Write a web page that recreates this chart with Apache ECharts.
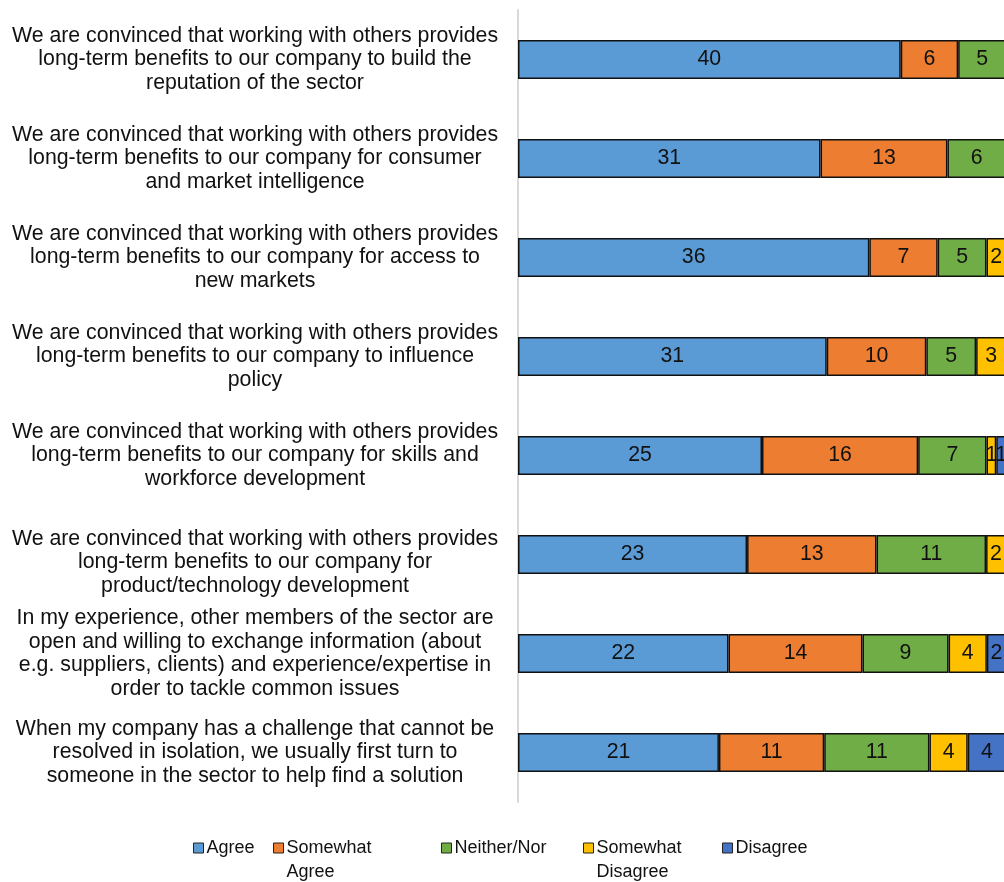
<!DOCTYPE html>
<html>
<head>
<meta charset="utf-8">
<script src="https://cdn.jsdelivr.net/npm/echarts@6/dist/echarts.min.js"></script>
<style>
  html, body { margin: 0; padding: 0; background: #fff; }
  #chart { width: 1004px; height: 882px; }
</style>
</head>
<body>
<div id="chart"></div>
<script>
// Survey statements (one per bar, top to bottom)
const categories = [
  'We are convinced that working with others provides\nlong-term benefits to our company to build the\nreputation of the sector',
  'We are convinced that working with others provides\nlong-term benefits to our company for consumer\nand market intelligence',
  'We are convinced that working with others provides\nlong-term benefits to our company for access to\nnew markets',
  'We are convinced that working with others provides\nlong-term benefits to our company to influence\npolicy',
  'We are convinced that working with others provides\nlong-term benefits to our company for skills and\nworkforce development',
  'We are convinced that working with others provides\nlong-term benefits to our company for\nproduct/technology development',
  'In my experience, other members of the sector are\nopen and willing to exchange information (about\ne.g. suppliers, clients) and experience/expertise in\norder to tackle common issues',
  'When my company has a challenge that cannot be\nresolved in isolation, we usually first turn to\nsomeone in the sector to help find a solution'
];

// Response counts per statement
const agree            = [40, 31, 36, 31, 25, 23, 22, 21];
const somewhatAgree    = [6, 13, 7, 10, 16, 13, 14, 11];
const neitherNor       = [5, 6, 5, 5, 7, 11, 9, 11];
const somewhatDisagree = [0, 0, 2, 3, 1, 2, 4, 4];
const disagree         = [0, 0, 0, 0, 1, 0, 2, 4];

const seriesNames  = ['Agree', 'Somewhat Agree', 'Neither/Nor', 'Somewhat Disagree', 'Disagree'];
const legendLabels = ['Agree', 'Somewhat\nAgree', 'Neither/Nor', 'Somewhat\nDisagree', 'Disagree'];
const colors = ['#5B9BD5', '#ED7D31', '#70AD47', '#FFC000', '#4472C4'];

const counts = [agree, somewhatAgree, neitherNor, somewhatDisagree, disagree];
const totals = categories.map((_, i) => counts.reduce((s, arr) => s + arr[i], 0));

const FONT = '"Liberation Sans", Arial, sans-serif';

// 100% stacked: each bar is the share of that statement's respondents,
// labelled with the raw count.
const series = counts.map((arr, k) => ({
  name: seriesNames[k],
  type: 'bar',
  stack: 'total',
  barWidth: 39,
  data: arr.map((v, i) => ({ value: v / totals[i] * 100, count: v })),
  itemStyle: { color: colors[k], borderColor: '#111', borderWidth: 1.5 },
  label: {
    show: true,
    position: 'inside',
    color: '#111',
    fontFamily: FONT,
    fontSize: 21.3,
    formatter: p => (p.data.count ? String(p.data.count) : '')
  },
  emphasis: { disabled: true }
}));

// Row whose label block sits a little lower than its bar: spacer line height
const labelSpacer = { 5: 16 };

// One legend per entry so each can be placed on its own
const legendLeft = [193, 273, 441, 583, 722];
const legends = seriesNames.map((n, k) => {
  const twoLine = legendLabels[k].indexOf('\n') >= 0;
  return {
    show: true,
    left: legendLeft[k],
    top: twoLine ? 812 : 836,
    padding: 0,
    itemWidth: 10,
    itemHeight: 10,
    itemGap: 0,
    selectedMode: false,
    data: [n],
    // leading blank line keeps the first line level with the swatch
    formatter: () => (twoLine ? '\n' : '') + legendLabels[k],
    icon: 'rect',
    itemStyle: { borderColor: '#222', borderWidth: 1 },
    textStyle: {
      fontFamily: FONT,
      fontSize: 18,
      color: '#111',
      lineHeight: 24,
      padding: [0, 0, 0, -2]
    }
  };
});

const chart = echarts.init(document.getElementById('chart'), null, { renderer: 'canvas' });
chart.setOption({
  backgroundColor: '#ffffff',
  animation: false,
  color: colors,
  legend: legends,
  grid: { left: 518, right: -2, top: 10, bottom: 80, containLabel: false, outerBoundsMode: 'none' },
  xAxis: {
    type: 'value',
    min: 0,
    max: 100,
    show: false,
    splitLine: { show: false }
  },
  yAxis: {
    type: 'category',
    inverse: true,
    data: categories,
    axisLine: { show: true, lineStyle: { color: '#d9d9d9', width: 2 } },
    axisTick: { show: false },
    axisLabel: {
      margin: 263,
      align: 'center',
      fontFamily: FONT,
      fontSize: 21.3,
      lineHeight: 23.5,
      color: '#111',
      interval: 0,
      formatter: (value, index) =>
        labelSpacer[index] ? '{sp| }\n' + value : value,
      rich: {
        sp: { fontSize: 12, lineHeight: 16, height: 16 }
      }
    }
  },
  series: series
});
</script>
</body>
</html>
